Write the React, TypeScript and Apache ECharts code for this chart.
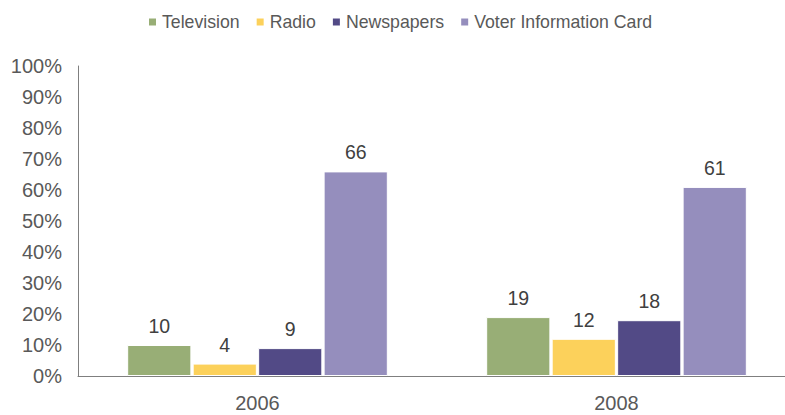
import React, { useEffect, useRef } from "react";
import * as echarts from "echarts";

const categories = ["2006", "2008"];
const seriesNames = ["Television", "Radio", "Newspapers", "Voter Information Card"];
const television = [10, 19];
const radio = [4, 12];
const newspapers = [9, 18];
const voterCard = [66, 61];
const colors = ["#98AE76", "#FCD15B", "#524A86", "#958EBD"];

export default function App() {
  const ref = useRef<HTMLDivElement>(null);
  useEffect(() => {
    const chart = echarts.init(ref.current!, null, { renderer: "svg" });
    const data = [television, radio, newspapers, voterCard];
    const font = "Liberation Sans";
    chart.setOption({
      animation: false,
      textStyle: { fontFamily: font },
      legend: {
        top: 8,
        left: 142,
        itemWidth: 9,
        itemHeight: 9,
        itemGap: 15,
        icon: "rect",
        textStyle: { fontSize: 17.7, color: "#595959", fontFamily: font },
        data: seriesNames,
      },
      grid: { left: 78, top: 66, height: 310, width: 718, containLabel: false },
      xAxis: {
        type: "category",
        data: categories,
        axisLine: { lineStyle: { color: "#7f7f7f", width: 1 } },
        axisTick: { show: false },
        axisLabel: { fontSize: 20, color: "#595959", margin: 17, fontFamily: font },
      },
      yAxis: {
        type: "value",
        min: 0,
        max: 100,
        interval: 10,
        splitLine: { show: false },
        axisLine: { show: true, lineStyle: { color: "#7f7f7f", width: 1 } },
        axisTick: { show: false },
        axisLabel: { fontSize: 20, color: "#595959", margin: 16, formatter: "{value}%", fontFamily: font },
      },
      series: seriesNames.map((name, i) => ({
        name,
        type: "bar",
        data: data[i],
        barCategoryGap: "27.4%",
        barGap: "2%",
        itemStyle: { color: colors[i], borderColor: "#fff", borderWidth: 1 },
        label: {
          show: true,
          position: "top",
          distance: 9,
          fontSize: 19.5,
          color: "#404040",
          fontFamily: font,
        },
      })),
    });
    return () => chart.dispose();
  }, []);
  return (
    <div style={{ position: "absolute", left: 0, top: 0, width: 785, height: 415, overflow: "hidden" }}>
      <div ref={ref} style={{ width: 800, height: 415 }} />
    </div>
  );
}
